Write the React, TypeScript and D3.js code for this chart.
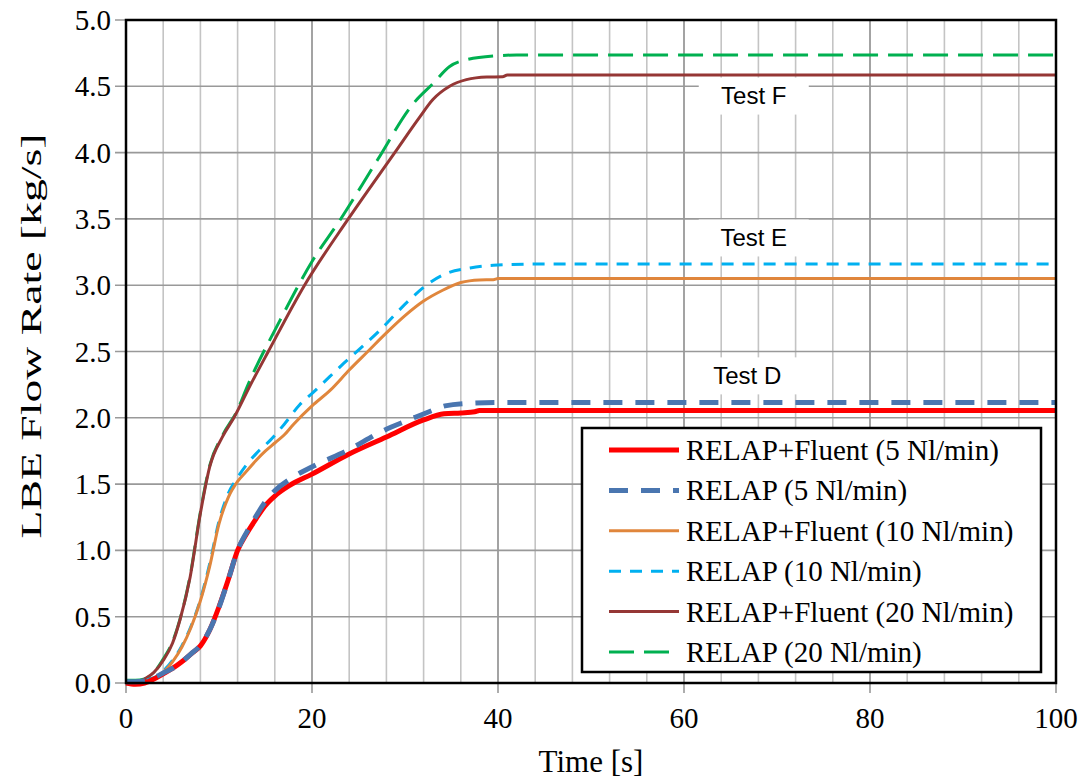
import React from "react";
import * as d3 from "d3";

const W = 1088, H = 783;
const M = { left: 126, right: 1056, top: 20, bottom: 683 };

const xTicks = [0, 20, 40, 60, 80, 100];
const xMinorTicks = d3.range(0, 101, 4);
const yTicks = [0, 0.5, 1, 1.5, 2, 2.5, 3, 3.5, 4, 4.5, 5];

const tRF5 = [0, 1, 2, 3, 4, 5, 6, 7, 8, 9, 10, 11, 12, 13, 14, 15, 16, 17.6, 20, 24, 28, 32, 34.2, 36, 37.5, 38, 100];
const vRF5 = [0, -0.01, 0.0, 0.03, 0.07, 0.11, 0.16, 0.22, 0.28, 0.4, 0.575, 0.78, 1.0, 1.13, 1.24, 1.34, 1.41, 1.49, 1.575, 1.727, 1.855, 1.984, 2.03, 2.037, 2.045, 2.055, 2.055];

const tR5 = [0, 1, 2, 3, 4, 5, 6, 7, 8, 9, 10, 11, 12, 13, 14, 15, 16, 17.9, 20.3, 24, 27.3, 30.8, 33.3, 34.3, 37.1, 40, 100];
const vR5 = [0.01, 0.01, 0.015, 0.04, 0.075, 0.11, 0.16, 0.22, 0.285, 0.4, 0.57, 0.78, 1.0, 1.14, 1.26, 1.37, 1.45, 1.55, 1.64, 1.76, 1.89, 1.995, 2.065, 2.09, 2.11, 2.115, 2.115];

const tRF10 = [0, 1, 2, 3, 4, 5, 6, 7, 8, 9, 10, 11, 12, 13, 14, 15, 16, 17, 18, 20, 22, 24, 26, 28, 30, 32, 34, 36, 38, 39.5, 40, 100];
const vRF10 = [0, 0, 0.01, 0.03, 0.08, 0.16, 0.27, 0.42, 0.62, 0.88, 1.2, 1.4, 1.52, 1.6, 1.68, 1.75, 1.81, 1.87, 1.95, 2.09, 2.21, 2.36, 2.5, 2.64, 2.77, 2.88, 2.96, 3.02, 3.04, 3.042, 3.05, 3.05];

const tR10 = [0, 1, 2, 3, 4, 5, 6, 7, 8, 9, 10, 11, 12, 13, 14, 15.5, 17, 18.7, 20.1, 23.4, 27.3, 30.5, 32.3, 34.5, 37, 39.5, 45, 100];
const vR10 = [0.01, 0.01, 0.02, 0.04, 0.09, 0.17, 0.28, 0.43, 0.63, 0.9, 1.22, 1.43, 1.55, 1.65, 1.73, 1.83, 1.95, 2.1, 2.19, 2.41, 2.66, 2.89, 3.0, 3.09, 3.13, 3.15, 3.16, 3.16];

const tRF20 = [0, 1, 1.5, 2, 3, 4, 5, 5.8, 6.9, 8, 9, 10.4, 11.6, 13.4, 15.3, 19.2, 23.9, 28.9, 31.6, 33, 34.8, 36.6, 38.8, 40.5, 41, 100];
const vRF20 = [0, 0, 0.01, 0.03, 0.08, 0.17, 0.3, 0.475, 0.8, 1.28, 1.63, 1.86, 2.0, 2.25, 2.5, 3.0, 3.5, 4.0, 4.27, 4.4, 4.5, 4.55, 4.57, 4.572, 4.585, 4.585];

const tR20 = [0, 1, 2, 3, 4, 5, 5.8, 6.9, 8, 9, 10.4, 12, 13, 16.6, 20.1, 23, 27, 30.9, 33, 34.8, 36.6, 39.9, 42, 100];
const vR20 = [0.02, 0.02, 0.03, 0.08, 0.18, 0.31, 0.48, 0.81, 1.29, 1.64, 1.87, 2.06, 2.23, 2.74, 3.19, 3.49, 3.94, 4.37, 4.52, 4.65, 4.7, 4.73, 4.736, 4.736];

const seriesNames = [
  "RELAP+Fluent (5 Nl/min)",
  "RELAP (5 Nl/min)",
  "RELAP+Fluent (10 Nl/min)",
  "RELAP (10 Nl/min)",
  "RELAP+Fluent (20 Nl/min)",
  "RELAP (20 Nl/min)",
];
const seriesT = [tRF5, tR5, tRF10, tR10, tRF20, tR20];
const seriesV = [vRF5, vR5, vRF10, vR10, vRF20, vR20];
const seriesColor = ["#FF0000", "#4A76B0", "#E0863C", "#00B0F0", "#953735", "#00B050"];
const seriesWidth = [5, 5, 3, 3, 3, 3];
const seriesDash = [null, "19,13", null, "12,9", null, "25,10"];
// draw order (back to front)
const drawOrder = [5, 4, 3, 2, 0, 1];

const annLabels = ["Test F", "Test E", "Test D"];
const annT = [67.5, 67.5, 66.8];
const annV = [4.43, 3.36, 2.32];

export default function App() {
  const x = d3.scaleLinear().domain([0, 100]).range([M.left, M.right]);
  const y = d3.scaleLinear().domain([0, 5]).range([M.bottom, M.top]);
  const line = d3
    .line<[number, number]>()
    .x((d) => x(d[0]))
    .y((d) => y(d[1]))
    .curve(d3.curveMonotoneX);

  const serif = "'Liberation Serif', 'Times New Roman', serif";
  const sans = "'Liberation Sans', Arial, sans-serif";

  const legX = 582, legY = 428, legW = 459, legH = 244;
  const rowY = (i: number) => 450 + i * 40.4;

  return (
    <svg width={W} height={H} style={{ position: "absolute", left: 0, top: 0, background: "#fff" }}>
      <rect x={0} y={0} width={W} height={H} fill="#fff" />
      {/* vertical grid */}
      {xMinorTicks.map((t) => (
        <line key={"vm" + t} x1={x(t)} x2={x(t)} y1={M.top} y2={M.bottom} stroke={t % 20 === 0 ? "#8C8C8C" : "#C4C4C4"} strokeWidth={1.6} />
      ))}
      {/* horizontal grid + y ticks */}
      {yTicks.map((v) => (
        <line key={"h" + v} x1={M.left - 11} x2={M.right} y1={y(v)} y2={y(v)} stroke="#999" strokeWidth={1.6} />
      ))}
      {/* x ticks */}
      {xTicks.map((t) => (
        <line key={"xt" + t} x1={x(t)} x2={x(t)} y1={M.bottom} y2={M.bottom + 10} stroke="#999" strokeWidth={1.6} />
      ))}
      {/* Annotation boxes */}
      {annLabels.map((s, i) => (
        <g key={s}>
          <rect x={x(annT[i]) - 55} y={y(annV[i]) - 18} width={110} height={37} fill="#fff" />
          <text x={x(annT[i])} y={y(annV[i])} textAnchor="middle" dominantBaseline="central" fontFamily={sans} fontSize={24} fill="#000">{s}</text>
        </g>
      ))}
      {/* series */}
      {drawOrder.map((i) => (
        <path
          key={"s" + i}
          d={line(seriesT[i].map((t, k) => [t, seriesV[i][k]] as [number, number])) || ""}
          fill="none"
          stroke={seriesColor[i]}
          strokeWidth={seriesWidth[i]}
          strokeDasharray={seriesDash[i] || undefined}
          strokeLinejoin="round"
        />
      ))}
      {/* plot border */}
      <rect x={M.left} y={M.top} width={M.right - M.left} height={M.bottom - M.top} fill="none" stroke="#000" strokeWidth={2.5} />
      {/* legend */}
      <rect x={legX} y={legY} width={legW} height={legH} fill="#fff" stroke="#000" strokeWidth={2.5} />
      {seriesNames.map((n, i) => (
        <g key={"l" + i}>
          <line x1={609} x2={679} y1={rowY(i)} y2={rowY(i)} stroke={seriesColor[i]} strokeWidth={seriesWidth[i]} strokeDasharray={seriesDash[i] || undefined} />
          <text x={686} y={rowY(i)} dominantBaseline="central" fontFamily={serif} fontSize={29} fill="#000">{n}</text>
        </g>
      ))}
      {/* y tick labels */}
      {yTicks.map((v) => (
        <text key={"yl" + v} x={111} y={y(v)} textAnchor="end" dominantBaseline="central" fontFamily={serif} fontSize={29} fill="#000">{v.toFixed(1)}</text>
      ))}
      {/* x tick labels */}
      {xTicks.map((t) => (
        <text key={"xl" + t} x={x(t)} y={718} textAnchor="middle" dominantBaseline="central" fontFamily={serif} fontSize={29} fill="#000">{t}</text>
      ))}
      <text x={(M.left + M.right) / 2} y={761} textAnchor="middle" dominantBaseline="central" fontFamily={serif} fontSize={31} fill="#000">Time [s]</text>
      <text transform={`translate(30, 336) rotate(-90)`} textAnchor="middle" dominantBaseline="central" fontFamily={serif} fontSize={30} textLength={405} lengthAdjust="spacingAndGlyphs" fill="#000">LBE Flow Rate [kg/s]</text>
    </svg>
  );
}
